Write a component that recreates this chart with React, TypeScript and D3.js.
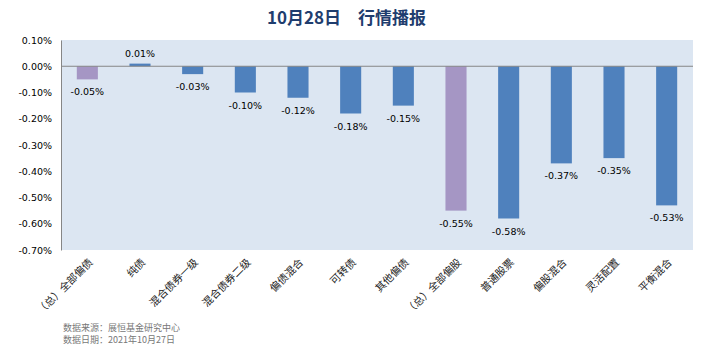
import * as d3 from "d3";
import { useEffect, useRef } from "react";

const categories = [
  "（总）全部偏债",
  "纯债",
  "混合债券一级",
  "混合债券二级",
  "偏债混合",
  "可转债",
  "其他偏债",
  "（总）全部偏股",
  "普通股票",
  "偏股混合",
  "灵活配置",
  "平衡混合",
];
const values = [-0.05, 0.01, -0.03, -0.1, -0.12, -0.18, -0.15, -0.55, -0.58, -0.37, -0.35, -0.53];
const totalFlags = [true, false, false, false, false, false, false, true, false, false, false, false];
const yTicks = [0.1, 0, -0.1, -0.2, -0.3, -0.4, -0.5, -0.6, -0.7];
const titleDate = "10月28日";
const titleName = "行情播报";
const notes = ["数据来源：展恒基金研究中心", "数据日期：2021年10月27日"];

const App = () => {
  const svgRef = useRef<SVGSVGElement>(null);

  useEffect(() => {
    const svg = d3.select(svgRef.current);
    svg.selectAll("*").remove();

    const width = 722;
    const height = 353;
    const margin = { top: 40, right: 29, bottom: 103, left: 61 };

    // nền trắng
    svg.append("rect").attr("width", width).attr("height", height).attr("fill", "#fff");

    const x = d3
      .scaleBand()
      .domain(categories)
      .range([margin.left, width - margin.right])
      .paddingInner(0.6)
      .paddingOuter(0.3);

    const y = d3
      .scaleLinear()
      .domain([-0.7, 0.1])
      .range([height - margin.bottom, margin.top]);

    // vùng vẽ
    svg
      .append("rect")
      .attr("x", margin.left)
      .attr("y", margin.top)
      .attr("width", width - margin.left - margin.right)
      .attr("height", height - margin.top - margin.bottom)
      .attr("fill", "#dce6f2");

    // trục Y
    const yAxis = svg
      .append("g")
      .attr("transform", `translate(${margin.left},0)`)
      .call(
        d3
          .axisLeft(y)
          .tickValues(yTicks)
          .tickSize(0)
          .tickPadding(9)
          .tickFormat((d) => `${(+d).toFixed(2)}%`)
      );
    yAxis.select(".domain").attr("stroke", "#868686").attr("stroke-width", 1);
    yAxis
      .selectAll("text")
      .attr("font-family", "'DejaVu Sans', sans-serif")
      .attr("font-size", "9.5px")
      .attr("fill", "#000");

    // các cột
    svg
      .selectAll("rect.bar")
      .data(values)
      .enter()
      .append("rect")
      .attr("class", "bar")
      .attr("x", (d, i) => x(categories[i])!)
      .attr("y", (d) => y(Math.max(0, d)))
      .attr("width", x.bandwidth())
      .attr("height", (d) => Math.abs(y(d) - y(0)))
      .attr("fill", (d, i) => (totalFlags[i] ? "#a596c4" : "#4f81bd"));

    // đường 0
    svg
      .append("line")
      .attr("x1", margin.left)
      .attr("x2", width - margin.right)
      .attr("y1", y(0))
      .attr("y2", y(0))
      .attr("stroke", "#868686")
      .attr("stroke-width", 1.2);

    // nhãn giá trị
    svg
      .selectAll("text.label")
      .data(values)
      .enter()
      .append("text")
      .attr("class", "label")
      .attr("x", (d, i) => x(categories[i])! + x.bandwidth() / 2)
      .attr("y", (d) => (d < 0 ? y(d) + 16 : y(d) - 7))
      .attr("text-anchor", "middle")
      .attr("font-family", "'DejaVu Sans', sans-serif")
      .attr("font-size", "9.5px")
      .attr("fill", "#000")
      .text((d) => `${d.toFixed(2)}%`);

    // nhãn trục X xoay
    svg
      .selectAll("text.cat")
      .data(categories)
      .enter()
      .append("text")
      .attr("class", "cat")
      .attr("transform", (d) => {
        const cx = x(d)! + x.bandwidth() / 2 + 6;
        return `translate(${cx},${height - margin.bottom + 13}) rotate(-45)`;
      })
      .attr("text-anchor", "end")
      .attr("font-family", "'Noto Sans CJK SC', sans-serif")
      .attr("font-size", "10.5px")
      .attr("fill", "#222")
      .text((d) => d);

    // tiêu đề
    const title = svg
      .append("g")
      .attr("font-family", "'Noto Sans CJK SC', sans-serif")
      .attr("font-weight", "bold")
      .attr("font-size", "17px")
      .attr("fill", "#1f3d6e");
    title.append("text").attr("x", 341).attr("y", 24).attr("text-anchor", "end").text(titleDate);
    title.append("text").attr("x", 358).attr("y", 24).attr("text-anchor", "start").text(titleName);

    // chú thích nguồn
    svg
      .selectAll("text.note")
      .data(notes)
      .enter()
      .append("text")
      .attr("class", "note")
      .attr("x", 63)
      .attr("y", (d, i) => 331 + i * 12)
      .attr("font-family", "'Noto Sans CJK SC', sans-serif")
      .attr("font-size", "9px")
      .attr("fill", "#777")
      .text((d) => d);
  }, []);

  return (
    <svg
      ref={svgRef}
      width={722}
      height={353}
      style={{ position: "absolute", left: 0, top: 0, display: "block" }}
    ></svg>
  );
};

export default App;
